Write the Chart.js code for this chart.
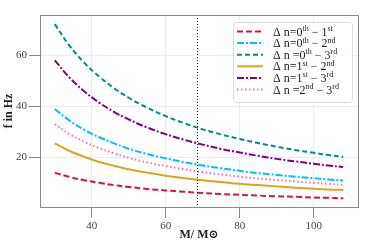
<!DOCTYPE html>
<html>
<head>
<meta charset="utf-8">
<script src="https://cdn.jsdelivr.net/npm/chart.js@4.4.1/dist/chart.umd.min.js"></script>
<style>
  html, body { margin: 0; padding: 0; background: #fff; }
  canvas { display: block; }
</style>
</head>
<body>
<canvas id="freqChart" width="374" height="249"></canvas>
<script>
// masses (M / M_sun) where the curves were read
const masses = [30, 34, 38, 42, 46, 50, 55, 60, 65, 70, 75, 80, 85, 90, 95, 100, 104, 108];

// frequency differences in Hz
const df01 = [13.8, 12.2, 10.9, 9.9, 9.0, 8.3, 7.5, 6.9, 6.4, 5.9, 5.5, 5.2, 4.9, 4.6, 4.4, 4.1, 4.0, 3.8];
const df02 = [38.9, 34.3, 30.7, 27.8, 25.4, 23.3, 21.2, 19.5, 18.0, 16.7, 15.6, 14.6, 13.7, 13.0, 12.3, 11.7, 11.2, 10.8];
const df03 = [72.2, 63.7, 57.0, 51.6, 47.1, 43.3, 39.4, 36.1, 33.3, 30.9, 28.9, 27.1, 25.5, 24.1, 22.8, 21.7, 20.8, 20.1];
const df12 = [25.4, 22.4, 20.1, 18.1, 16.6, 15.2, 13.9, 12.7, 11.7, 10.9, 10.2, 9.5, 9.0, 8.5, 8.0, 7.6, 7.3, 7.1];
const df13 = [58.0, 51.2, 45.8, 41.4, 37.8, 34.8, 31.6, 29.0, 26.8, 24.9, 23.2, 21.8, 20.5, 19.3, 18.3, 17.4, 16.7, 16.1];
const df23 = [32.9, 29.0, 26.0, 23.5, 21.5, 19.7, 17.9, 16.5, 15.2, 14.1, 13.2, 12.3, 11.6, 11.0, 10.4, 9.9, 9.5, 9.1];

// legend labels, pieces flagged 1 are superscripts
const labels = [
    [['\u0394 n=0', 0], ['th', 1], [' \u2212 1', 0], ['st', 1]],
    [['\u0394 n=0', 0], ['th', 1], [' \u2212 2', 0], ['nd', 1]],
    [['\u0394 n =0', 0], ['th', 1], [' \u2212 3', 0], ['rd', 1]],
    [['\u0394 n=1', 0], ['st', 1], [' \u2212 2', 0], ['nd', 1]],
    [['\u0394 n=1', 0], ['st', 1], [' \u2212 3', 0], ['rd', 1]],
    [['\u0394 n =2', 0], ['nd', 1], [' \u2212 3', 0], ['rd', 1]]
];

const xTicks = [40, 60, 80, 100];
const yTicks = [20, 40, 60];
const markerMass = 68.5;

const SERIF = "'Liberation Serif', 'DejaVu Serif', serif";

function pts(ys) {
    return masses.map((m, i) => ({x: m, y: ys[i]}));
}

const styles = [
    {data: df01, color: '#dc143c', dash: [6, 3]},
    {data: df02, color: '#00bfff', dash: [7, 2, 2, 2]},
    {data: df03, color: '#008b8b', dash: [5, 3]},
    {data: df12, color: '#daa520', dash: []},
    {data: df13, color: '#800080', dash: [7, 2, 2, 2]},
    {data: df23, color: '#ff69b4', dash: [1.5, 2.5]}
];

const frameAndMarker = {
    id: 'frameAndMarker',
    afterDatasetsDraw(chart) {
        const {ctx, chartArea: a, scales} = chart;
        const x = Math.round(scales.x.getPixelForValue(markerMass)) + 0.5;
        ctx.save();
        ctx.strokeStyle = '#111';
        ctx.lineWidth = 1;
        ctx.setLineDash([1, 2]);
        ctx.beginPath();
        ctx.moveTo(x, a.top);
        ctx.lineTo(x, a.bottom);
        ctx.stroke();
        ctx.setLineDash([]);
        ctx.strokeStyle = '#8a8a8a';
        ctx.strokeRect(a.left + 0.5, a.top + 0.5, a.right - a.left, a.bottom - a.top);
        ctx.restore();
    }
};

const texLegend = {
    id: 'texLegend',
    afterDraw(chart) {
        const {ctx} = chart;
        const bx = 233, by = 22, bw = 119, bh = 80;
        ctx.save();
        ctx.fillStyle = 'rgba(255,255,255,0.85)';
        ctx.strokeStyle = '#dcdcdc';
        ctx.lineWidth = 1;
        ctx.beginPath();
        ctx.roundRect(bx + 0.5, by + 0.5, bw, bh, 3);
        ctx.fill();
        ctx.stroke();
        ctx.textBaseline = 'alphabetic';
        labels.forEach((parts, i) => {
            const y = by + 9.5 + i * 11.6;
            const s = styles[i];
            ctx.strokeStyle = s.color;
            ctx.lineWidth = 2;
            ctx.setLineDash(s.dash);
            ctx.beginPath();
            ctx.moveTo(bx + 4, y);
            ctx.lineTo(bx + 30, y);
            ctx.stroke();
            ctx.setLineDash([]);
            let tx = bx + 40;
            ctx.fillStyle = '#222';
            parts.forEach(([txt, sup]) => {
                ctx.font = (sup ? '8px ' : '12px ') + SERIF;
                ctx.fillText(txt, tx, sup ? y - 0.5 : y + 4);
                tx += ctx.measureText(txt).width;
            });
        });
        ctx.restore();
    }
};

new Chart(document.getElementById('freqChart').getContext('2d'), {
    type: 'line',
    data: {
        datasets: styles.map(s => ({
            data: pts(s.data),
            borderColor: s.color,
            borderDash: s.dash,
            borderWidth: 2,
            pointRadius: 0,
            fill: false,
            tension: 0.4
        }))
    },
    options: {
        responsive: false,
        animation: false,
        layout: {padding: {left: 0, top: 15, right: 16, bottom: 0}},
        plugins: {legend: {display: false}, tooltip: {enabled: false}},
        scales: {
            x: {
                type: 'linear',
                min: 26,
                max: 112,
                afterFit: s => { s.height = 42; },
                afterBuildTicks: s => { s.ticks = xTicks.map(v => ({value: v})); },
                grid: {color: '#ececec', tickColor: '#8a8a8a', tickLength: 11},
                border: {display: false},
                ticks: {color: '#444', font: {family: SERIF, size: 11}, padding: 2, maxRotation: 0},
                title: {
                    display: true,
                    text: 'M/ M\u2299',
                    color: '#222',
                    font: {family: SERIF, size: 12, weight: 'bold'},
                    padding: {top: 0, bottom: 7}
                }
            },
            y: {
                min: 0.4,
                max: 75.8,
                afterFit: s => { s.width = 40; },
                afterBuildTicks: s => { s.ticks = yTicks.map(v => ({value: v})); },
                grid: {color: '#ececec', tickColor: '#8a8a8a', tickLength: 11},
                border: {display: false},
                ticks: {color: '#444', font: {family: SERIF, size: 11}, padding: 2},
                title: {
                    display: true,
                    text: 'f in Hz',
                    color: '#222',
                    font: {family: SERIF, size: 12, weight: 'bold'},
                    padding: {top: 2, bottom: 0}
                }
            }
        }
    },
    plugins: [frameAndMarker, texLegend]
});
</script>
</body>
</html>
